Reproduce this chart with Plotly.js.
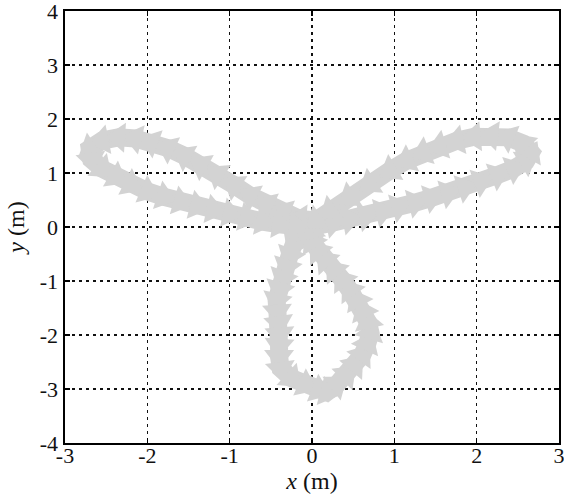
<!DOCTYPE html>
<html>
<head>
<meta charset="utf-8">
<script src="https://cdn.plot.ly/plotly-3.0.1.min.js"></script>
<style>
  html, body { margin: 0; padding: 0; background: #fff; }
  #plot { width: 564px; height: 494px; }
</style>
</head>
<body>
<div id="plot"></div>
<script>
// Robot poses along the three-petal trajectory (metres).
// Bottom petal: down the left side, around, back up the right side.
var bottomX = [-0.05, -0.15, -0.22, -0.27, -0.31, -0.36, -0.40, -0.43, -0.42, -0.40, -0.39, -0.40, -0.40,
               -0.38, -0.25, -0.08, 0.08, 0.18, 0.30, 0.42, 0.52, 0.61, 0.67, 0.71, 0.68, 0.62, 0.55,
               0.46, 0.37, 0.27, 0.16, 0.07, 0.00, -0.02];
var bottomY = [0.05, -0.12, -0.32, -0.52, -0.72, -0.93, -1.14, -1.35, -1.56, -1.77, -1.98, -2.19, -2.40,
               -2.62, -2.80, -2.92, -3.02, -3.06, -2.92, -2.74, -2.56, -2.37, -2.17, -1.96, -1.76, -1.56, -1.36,
               -1.17, -0.98, -0.80, -0.62, -0.45, -0.28, -0.10];

// Right petal: out along the lower side, around the tip, back along the upper side.
var rightX = [0.05, 0.25, 0.45, 0.65, 0.85, 1.05, 1.25, 1.45, 1.65, 1.85, 2.05, 2.25, 2.45, 2.60, 2.66,
              2.56, 2.38, 2.18, 1.97, 1.76, 1.55, 1.35, 1.15, 0.95, 0.70, 0.45, 0.22, 0.05];
var rightY = [0.02, 0.08, 0.14, 0.20, 0.28, 0.37, 0.45, 0.54, 0.63, 0.73, 0.84, 0.96, 1.08, 1.22, 1.38,
              1.55, 1.66, 1.70, 1.67, 1.60, 1.50, 1.38, 1.23, 1.05, 0.80, 0.55, 0.30, 0.12];

// Left petal: out along the upper side, around the tip, back along the lower side.
var leftX = [-0.15, -0.35, -0.55, -0.75, -0.95, -1.15, -1.35, -1.55, -1.75, -1.95, -2.15, -2.35, -2.55, -2.70,
             -2.68, -2.55, -2.38, -2.20, -2.00, -1.80, -1.60, -1.40, -1.20, -1.00, -0.80, -0.60, -0.40, -0.20];
var leftY = [0.15, 0.28, 0.42, 0.58, 0.78, 0.98, 1.15, 1.32, 1.46, 1.57, 1.64, 1.66, 1.60, 1.45,
             1.25, 1.08, 0.93, 0.79, 0.66, 0.56, 0.47, 0.39, 0.32, 0.25, 0.17, 0.10, 0.05, 0.02];

// Axis ticks
var xTickVals = [-3, -2, -1, 0, 1, 2, 3];
var xTickText = ['-3', '-2', '-1', '0', '1', '2', '3'];
var yTickVals = [-4, -3, -2, -1, 0, 1, 2, 3, 4];
var yTickText = ['-4', '-3', '-2', '-1', '0', '1', '2', '3', '4'];

var pathX = bottomX.concat(rightX, leftX);
var pathY = bottomY.concat(rightY, leftY);

var poseGray = '#d3d3d3';
var serif = '"Liberation Serif", "Times New Roman", Times, serif';

var traces = [
  {
    // swept band under the pose markers
    x: pathX, y: pathY,
    type: 'scatter', mode: 'lines',
    line: { color: poseGray, width: 18 },
    hoverinfo: 'skip'
  },
  {
    // one triangle per pose, pointing along the direction of travel
    x: pathX, y: pathY,
    type: 'scatter', mode: 'markers',
    marker: {
      symbol: 'triangle-up', size: 26, color: poseGray,
      angleref: 'previous', angle: 0,
      line: { width: 0 }
    },
    hoverinfo: 'skip'
  }
];

function axisStyle(range, vals, text, title) {
  return {
    range: range,
    tickmode: 'array', tickvals: vals, ticktext: text,
    ticks: 'inside', ticklen: 5, tickwidth: 1.2, tickcolor: '#000',
    ticklabeloverflow: 'allow',
    showline: true, linecolor: '#000', linewidth: 1.6, mirror: 'ticks',
    showgrid: true, gridcolor: '#111', gridwidth: 1.5, griddash: '3px,4px',
    zeroline: false,
    tickfont: { family: serif, size: 22, color: '#111' },
    title: { text: title, font: { family: serif, size: 24, color: '#111' } }
  };
}

var layout = {
  width: 564, height: 494,
  margin: { l: 65, r: 5, t: 11, b: 51 },
  paper_bgcolor: '#fff', plot_bgcolor: '#fff',
  showlegend: false,
  xaxis: axisStyle([-3, 3], xTickVals, xTickText, '<i>x</i> (m)'),
  yaxis: axisStyle([-4, 4], yTickVals, yTickText, '<i>y</i> (m)')
};
layout.xaxis.ticklabelstandoff = -8;
layout.yaxis.ticklabelstandoff = 1;
layout.xaxis.title.standoff = 14;
layout.yaxis.title.standoff = 8;
layout.xaxis.automargin = false;
layout.yaxis.automargin = false;

Plotly.newPlot('plot', traces, layout, { staticPlot: true, displayModeBar: false });
</script>
</body>
</html>
